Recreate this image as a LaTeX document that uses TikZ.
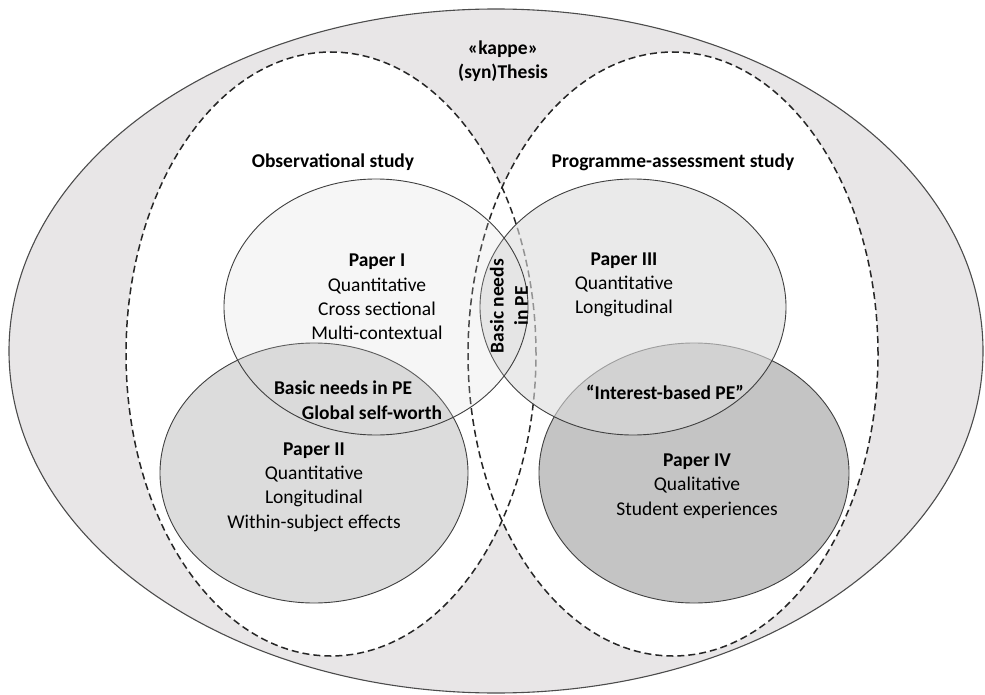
\documentclass[tikz,border=0pt]{standalone}
\usepackage{fontspec}
\setmainfont{Carlito}
\usetikzlibrary{shapes.geometric}
\definecolor{thesisgray}{RGB}{232,230,231}
\definecolor{paperone}{RGB}{210,210,210}
\definecolor{papertwo}{RGB}{220,220,220}
\definecolor{paperthree}{RGB}{220,220,220}
\definecolor{paperfour}{RGB}{196,196,196}

\begin{document}
\begin{tikzpicture}[x=1pt, y=-1pt,
  thesis/.style={ellipse, draw=black!70, line width=1.1pt, fill=thesisgray, inner sep=0pt},
  study/.style={ellipse, draw=black!85, line width=1.5pt, dash pattern=on 7pt off 4pt, inner sep=0pt},
  paper/.style={ellipse, draw=black!75, line width=0.9pt, inner sep=0pt},
  txt/.style={align=center, font=\fontsize{19.5}{24.3}\selectfont},
  heading/.style={align=center, font=\fontsize{19.5}{24.3}\selectfont\bfseries}]

  \useasboundingbox (0,0) rectangle (985,695);

  % outer thesis and the two studies
  \node [thesis, minimum width=974pt, minimum height=684pt] (thesis) at (496,351) {};
  \fill [white] (331,354) ellipse [x radius=205, y radius=302];
  \fill [white] (673,354) ellipse [x radius=205, y radius=302];
  \node [study, minimum width=410pt, minimum height=604pt] (obs) at (331,354) {};
  \node [study, minimum width=410pt, minimum height=604pt] (prog) at (673,354) {};

  % papers
  \node [paper, fill=papertwo, minimum width=308pt, minimum height=260pt] (p2) at (314,473) {};
  \node [paper, fill=paperfour, minimum width=310pt, minimum height=260pt] (p4) at (694,473) {};
  \node [paper, fill=paperthree, fill opacity=0.6, minimum width=306pt, minimum height=256pt] (p3) at (633,307) {};
  \node [paper, fill=paperone, fill opacity=0.2, minimum width=304pt, minimum height=256pt] (p1) at (376,307) {};

  % texts
  \node [heading] (kappe) at (503,61) {«kappe»\\(syn)Thesis};
  \node [heading] (obstitle) at (333,162) {Observational study};
  \node [heading] (progtitle) at (673,162) {Programme-assessment study};
  \node [txt] (p1text) at (377,297) {\textbf{Paper I}\\Quantitative\\Cross sectional\\Multi-contextual};
  \node [txt] (p3text) at (624,285) {\textbf{Paper III}\\Quantitative\\Longitudinal};
  \node [txt] (p2text) at (314,487) {\textbf{Paper II}\\Quantitative\\Longitudinal\\Within-subject effects};
  \node [txt] (p4text) at (697,486) {\textbf{Paper IV}\\Qualitative\\Student experiences};
  \node [heading, rotate=90] (needs) at (509,306) {Basic needs\\in PE};
  \node [heading] (needs2) at (343,388) {Basic needs in PE};
  \node [heading] (worth) at (372,413) {Global self-worth};
  \node [heading] (interest) at (665,392) {“Interest-based PE”};
\end{tikzpicture}
\end{document}
